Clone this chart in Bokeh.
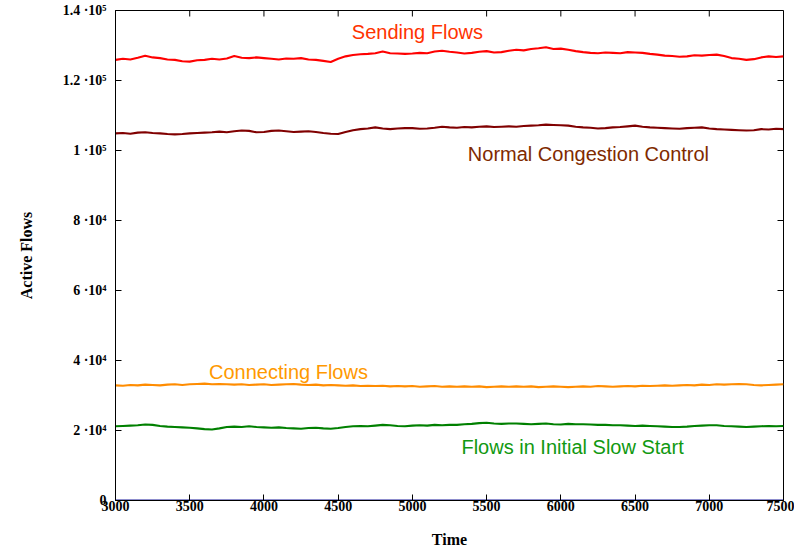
from bokeh.plotting import figure
from bokeh.models import Range1d, FixedTicker
from bokeh.core.properties import value
from bokeh.embed import file_html
from bokeh.resources import INLINE

# Time axis (every 50 time units)
time = list(range(3000, 7501, 50))

# Values in thousands of flows
sending = [125.9, 126.2, 126.0, 126.5, 127.1, 126.6, 126.4, 126.0, 125.9, 125.5,
           125.4, 125.8, 125.9, 126.2, 126.0, 126.3, 127.0, 126.5, 126.4, 126.6,
           126.4, 126.2, 126.0, 126.3, 126.2, 126.4, 126.0, 125.9, 125.6, 125.3,
           126.2, 126.9, 127.3, 127.5, 127.6, 127.8, 128.3, 127.8, 127.7, 127.6,
           127.7, 127.9, 127.8, 128.3, 128.5, 128.2,
           128.0, 127.7, 127.9, 128.2, 128.4, 128.0, 128.1, 128.5, 128.8, 128.6,
           129.0, 129.2, 129.5, 129.0, 129.1, 128.8, 128.4, 128.1, 127.9, 127.8,
           128.0, 127.9, 127.8, 128.1, 128.0, 127.9, 127.6, 127.4, 127.1, 127.0,
           126.8, 126.9, 127.2, 127.1, 127.3, 127.4, 127.0, 126.4, 126.2, 125.9,
           126.1, 126.6, 126.9, 126.7, 126.9]

normal_cc = [104.9, 105.0, 104.8, 105.1, 105.2, 105.0, 104.9, 104.7, 104.6, 104.7,
             104.9, 105.0, 105.1, 105.2, 105.4, 105.2, 105.5, 105.7, 105.6, 105.2,
             105.3, 105.6, 105.7, 105.5, 105.3, 105.4, 105.5, 105.3, 105.0, 104.8,
             104.7, 105.3, 105.8, 106.1, 106.3, 106.6, 106.3, 106.1, 106.3, 106.4,
             106.4, 106.2, 106.3, 106.5, 106.8, 106.6,
             106.5, 106.7, 106.6, 106.8, 106.9, 106.7, 106.8, 106.9, 106.8, 107.0,
             107.1, 107.2, 107.4, 107.3, 107.2, 107.1, 106.8, 106.6, 106.5, 106.3,
             106.4, 106.6, 106.7, 106.9, 107.1, 106.8, 106.6, 106.5, 106.4, 106.3,
             106.2, 106.4, 106.5, 106.6, 106.3, 106.1, 106.0, 105.9, 105.8, 105.7,
             105.8, 106.1, 106.0, 106.2, 106.1]

connecting = [32.9, 32.8, 33.0, 32.9, 33.1, 33.0, 32.9, 33.1, 33.2, 33.0,
              33.2, 33.3, 33.4, 33.2, 33.3, 33.2, 33.1, 33.2, 33.0, 33.1,
              33.2, 33.0, 33.1, 33.2, 33.3, 33.1, 33.0, 33.1, 32.9, 33.0,
              32.9, 32.8, 32.9, 32.7, 32.8, 32.7, 32.8, 32.6, 32.7, 32.6,
              32.7, 32.5, 32.6, 32.7, 32.5, 32.6,
              32.5, 32.6, 32.5, 32.6, 32.4, 32.5, 32.6, 32.5, 32.6, 32.5,
              32.6, 32.4, 32.5, 32.6, 32.5, 32.4, 32.5, 32.6, 32.5, 32.7,
              32.6, 32.5, 32.6, 32.7, 32.6, 32.8, 32.7, 32.8, 32.9, 32.8,
              32.9, 33.0, 32.9, 33.1, 33.0, 33.2, 33.1, 33.2, 33.3, 33.2,
              33.0, 32.9, 33.0, 33.1, 33.2]

slow_start = [21.2, 21.3, 21.4, 21.5, 21.7, 21.6, 21.3, 21.1, 21.0, 20.9,
              20.8, 20.6, 20.4, 20.3, 20.6, 21.0, 21.1, 21.0, 21.2, 21.0,
              20.9, 20.8, 20.9, 20.7, 20.6, 20.5, 20.7, 20.8, 20.6, 20.5,
              20.7, 21.0, 21.2, 21.3, 21.2, 21.4, 21.6, 21.5, 21.3, 21.2,
              21.4, 21.5, 21.4, 21.6, 21.5, 21.6,
              21.6, 21.8, 21.9, 22.1, 22.2, 22.0, 21.9, 22.0, 22.0, 21.9,
              21.8, 21.9, 22.0, 21.8, 21.7, 21.9, 21.8, 21.8, 21.7, 21.6,
              21.6, 21.5, 21.5, 21.4, 21.3, 21.4, 21.3, 21.2, 21.1, 21.0,
              21.0, 21.1, 21.3, 21.4, 21.5, 21.5, 21.3, 21.2, 21.1, 21.0,
              21.1, 21.2, 21.3, 21.2, 21.3]

zero_series = [0.0] * len(time)

x_ticks = [3000, 3500, 4000, 4500, 5000, 5500, 6000, 6500, 7000, 7500]
y_ticks = [0, 20000, 40000, 60000, 80000, 100000, 120000, 140000]
y_tick_labels = ["0", "2 ·10⁴", "4 ·10⁴", "6 ·10⁴", "8 ·10⁴", "1 ·10⁵", "1.2 ·10⁵", "1.4 ·10⁵"]

X0, X1 = 3000, 7500
Y0, Y1 = 0, 140000
FRAME_W, FRAME_H = 668, 490
LEFT, RIGHT, TOP, BOTTOM = 115, 11, 10, 54

SERIF = "Liberation Serif"
SANS = "Liberation Sans"

p = figure(width=LEFT + FRAME_W + RIGHT, height=TOP + FRAME_H + BOTTOM,
           output_backend="svg", toolbar_location=None,
           x_range=Range1d(X0, X1), y_range=Range1d(Y0, Y1),
           min_border_left=LEFT, min_border_right=RIGHT,
           min_border_top=TOP, min_border_bottom=BOTTOM,
           x_axis_label="Time", y_axis_label="Active Flows")
p.grid.visible = False
p.outline_line_color = "black"
p.outline_line_width = 1
p.background_fill_color = "white"
p.border_fill_color = "white"

for ax in p.xaxis + p.yaxis:
    ax.major_tick_in = 6
    ax.major_tick_out = 0
    ax.minor_tick_line_color = None
    ax.axis_line_color = "black"
    ax.major_tick_line_color = "black"
    ax.major_label_text_font = SERIF
    ax.major_label_text_font_style = "bold"
    ax.major_label_text_font_size = "14px"
    ax.major_label_text_color = "black"
    ax.axis_label_text_font = SERIF
    ax.axis_label_text_font_style = "bold"
    ax.axis_label_text_font_size = "16px"
    ax.axis_label_text_color = "black"

p.xaxis.ticker = FixedTicker(ticks=x_ticks)
p.yaxis.ticker = FixedTicker(ticks=y_ticks)
p.yaxis.major_label_overrides = {t: s for t, s in zip(y_ticks, y_tick_labels)}
p.xaxis.major_label_standoff = 0
p.xaxis.axis_label_standoff = 17
p.yaxis.major_label_standoff = 9
p.yaxis.axis_label_standoff = 25

# pixel -> data conversions for the inner ticks on the top and right sides
px_x = (X1 - X0) / FRAME_W
px_y = (Y1 - Y0) / FRAME_H
tick_len = 6
p.segment(x0=x_ticks, y0=[Y1] * len(x_ticks), x1=x_ticks,
          y1=[Y1 - tick_len * px_y] * len(x_ticks), line_color="black", line_width=1)
p.segment(x0=[X1] * len(y_ticks), y0=y_ticks, x1=[X1 - tick_len * px_x] * len(y_ticks),
          y1=y_ticks, line_color="black", line_width=1)

def k(vals):
    return [v * 1000 for v in vals]

LW = 2.1
p.line(time, k(sending), line_color="#ff0000", line_width=LW)
p.line(time, k(normal_cc), line_color="#800000", line_width=LW)
p.line(time, k(connecting), line_color="#ff8c00", line_width=LW)
p.line(time, k(slow_start), line_color="#008000", line_width=LW)
p.line(time, zero_series, line_color="#1c1c9c", line_width=2.2)

label_style = dict(text_font=value(SANS), text_font_size="20px",
                   text_align="center", text_baseline="middle")
p.text(x=[5034], y=[134000], text=["Sending Flows"], text_color="#ff3300", **label_style)
p.text(x=[6186], y=[99100], text=["Normal Congestion Control"], text_color="#7f2a00", **label_style)
p.text(x=[4165], y=[36800], text=["Connecting Flows"], text_color="#ff9900", **label_style)
p.text(x=[6079], y=[15300], text=["Flows in Initial Slow Start"], text_color="#119911", **label_style)

open("out.html", "w").write(file_html(p, INLINE))
